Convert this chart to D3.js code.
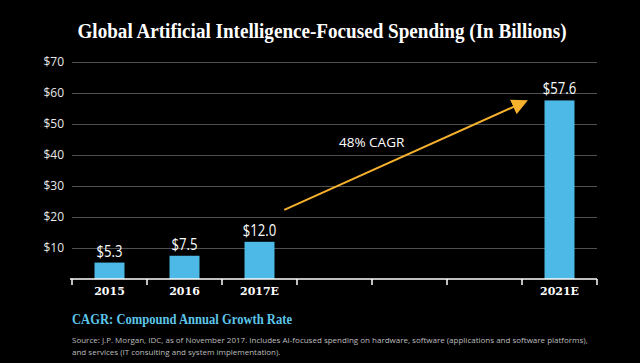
<!DOCTYPE html>
<html>
<head>
<meta charset="utf-8">
<script src="https://cdn.jsdelivr.net/npm/d3@7"></script>
<style>
  body { margin: 0; background: #000; }
  svg { display: block; }
</style>
</head>
<body>
<svg width="640" height="363"></svg>
<script>
// chart data
var categories = ["2015", "2016", "2017E", "2018E", "2019E", "2020E", "2021E"];
var tickLabels = ["2015", "2016", "2017E", "", "", "", "2021E"];
var spending = [5.3, 7.5, 12.0, null, null, null, 57.6];
var yTicks = [10, 20, 30, 40, 50, 60, 70];

// annotation, in slot units (x) and billions (y)
var cagrArrow = { from: [2.83, 22.3], to: [6.04, 57.2] };
var cagrLabel = { text: "48% CAGR", at: [3.56, 42.6] };

var svg = d3.select("svg"),
    width = +svg.attr("width"),
    height = +svg.attr("height");

var margin = { left: 72, right: 43, top: 62, bottom: 84 };
var plotW = width - margin.left - margin.right,
    plotH = height - margin.top - margin.bottom;

var x = d3.scaleBand()
    .domain(categories)
    .range([margin.left, margin.left + plotW])
    .padding(0);

// continuous version of the slots, for ticks at band edges and the annotation
var slot = d3.scaleLinear()
    .domain([0, categories.length])
    .range([margin.left, margin.left + plotW]);

var y = d3.scaleLinear()
    .domain([0, 70])
    .range([margin.top + plotH, margin.top]);

var barW = x.bandwidth() * 0.4;

// squeeze a text a bit, the original uses condensed faces
function condense(sel, k) {
  sel.each(function() {
    var w = this.getComputedTextLength();
    d3.select(this).attr("textLength", w * k).attr("lengthAdjust", "spacingAndGlyphs");
  });
}

svg.append("rect").attr("width", width).attr("height", height).attr("fill", "#000");

// title
svg.append("text")
    .attr("x", width / 2 + 2)
    .attr("y", 38)
    .attr("text-anchor", "middle")
    .attr("fill", "#fff")
    .style("font-family", "'Liberation Serif', serif")
    .style("font-weight", "bold")
    .style("font-size", "20px")
    .text("Global Artificial Intelligence-Focused Spending (In Billions)")
    .call(function(t) {
      var w = t.node().getComputedTextLength();
      if (w > 489) condense(t, 489 / w);
    });

// gridlines + y labels
var grid = svg.append("g")
    .attr("transform", "translate(" + margin.left + ",0)")
    .call(d3.axisLeft(y).tickValues(yTicks).tickSize(-plotW).tickFormat(function(d) { return "$" + d; }));
grid.select(".domain").remove();
grid.selectAll(".tick line").attr("stroke", "#505050").attr("stroke-width", 1);
grid.selectAll(".tick text")
    .attr("x", -8)
    .attr("fill", "#e8e8e8")
    .style("font-family", "'Open Sans', sans-serif")
    .style("font-size", "12px");

var barData = categories.map(function(c, i) { return { cat: c, v: spending[i] }; })
    .filter(function(d) { return d.v != null; });

// bars
svg.append("g").selectAll("rect")
    .data(barData)
  .enter().append("rect")
    .attr("x", function(d) { return x(d.cat) + (x.bandwidth() - barW) / 2; })
    .attr("y", function(d) { return y(d.v); })
    .attr("width", barW)
    .attr("height", function(d) { return y(0) - y(d.v); })
    .attr("fill", "#4db9e6");

// value labels
svg.append("g").selectAll("text")
    .data(barData)
  .enter().append("text")
    .attr("x", function(d) { return x(d.cat) + x.bandwidth() / 2; })
    .attr("y", function(d) { return y(d.v) - 6; })
    .attr("text-anchor", "middle")
    .attr("fill", "#fff")
    .style("font-family", "'Open Sans', sans-serif")
    .style("font-size", "16px")
    .text(function(d) { return "$" + d3.format(".1f")(d.v); })
    .call(condense, 0.82);

// x axis: baseline, ticks at band edges, labels centred
var xAxis = svg.append("g").attr("transform", "translate(0," + y(0) + ")");
xAxis.append("line")
    .attr("x1", margin.left - 2).attr("x2", margin.left + plotW)
    .attr("stroke", "#fff").attr("stroke-width", 1.5);
xAxis.selectAll("line.tk")
    .data(d3.range(categories.length + 1))
  .enter().append("line")
    .attr("class", "tk")
    .attr("x1", function(d) { return slot(d); })
    .attr("x2", function(d) { return slot(d); })
    .attr("y1", 0).attr("y2", 6)
    .attr("stroke", "#fff").attr("stroke-width", 1.5);
xAxis.selectAll("text")
    .data(categories)
  .enter().append("text")
    .attr("x", function(d) { return x(d) + x.bandwidth() / 2; })
    .attr("y", 16)
    .attr("text-anchor", "middle")
    .attr("fill", "#fff")
    .style("font-family", "'DejaVu Serif', serif")
    .style("font-weight", "bold")
    .style("font-size", "11px")
    .text(function(d, i) { return tickLabels[i]; });

// CAGR arrow
svg.append("defs").append("marker")
    .attr("id", "head")
    .attr("viewBox", "0 0 10 10")
    .attr("refX", 8).attr("refY", 5)
    .attr("markerWidth", 8).attr("markerHeight", 8)
    .attr("markerUnits", "strokeWidth")
    .attr("orient", "auto")
  .append("path")
    .attr("d", "M0,0L10,5L0,10z")
    .attr("fill", "#f6b12d");

svg.append("line")
    .attr("x1", slot(cagrArrow.from[0])).attr("y1", y(cagrArrow.from[1]))
    .attr("x2", slot(cagrArrow.to[0])).attr("y2", y(cagrArrow.to[1]))
    .attr("stroke", "#f6b12d")
    .attr("stroke-width", 2)
    .attr("marker-end", "url(#head)");

svg.append("text")
    .attr("x", slot(cagrLabel.at[0]))
    .attr("y", y(cagrLabel.at[1]))
    .attr("fill", "#fff")
    .style("font-family", "'Open Sans', sans-serif")
    .style("font-size", "13.5px")
    .text(cagrLabel.text);

// footer
svg.append("text")
    .attr("x", margin.left)
    .attr("y", 324)
    .attr("fill", "#5cc5e8")
    .style("font-family", "'Liberation Serif', serif")
    .style("font-weight", "bold")
    .style("font-size", "14px")
    .text("CAGR: Compound Annual Growth Rate")
    .call(function(t) {
      var w = t.node().getComputedTextLength();
      if (w > 220) condense(t, 220 / w);
    });

var source = [
  "Source: J.P. Morgan, IDC, as of November 2017. Includes AI-focused spending on hardware, software (applications and software platforms),",
  "and services (IT consulting and system implementation)."
];
svg.append("g").selectAll("text")
    .data(source)
  .enter().append("text")
    .attr("x", margin.left)
    .attr("y", function(d, i) { return 343 + i * 12; })
    .attr("fill", "#bdbdbd")
    .style("font-family", "'Open Sans', sans-serif")
    .style("font-size", "8px")
    .text(function(d) { return d; });
</script>
</body>
</html>
